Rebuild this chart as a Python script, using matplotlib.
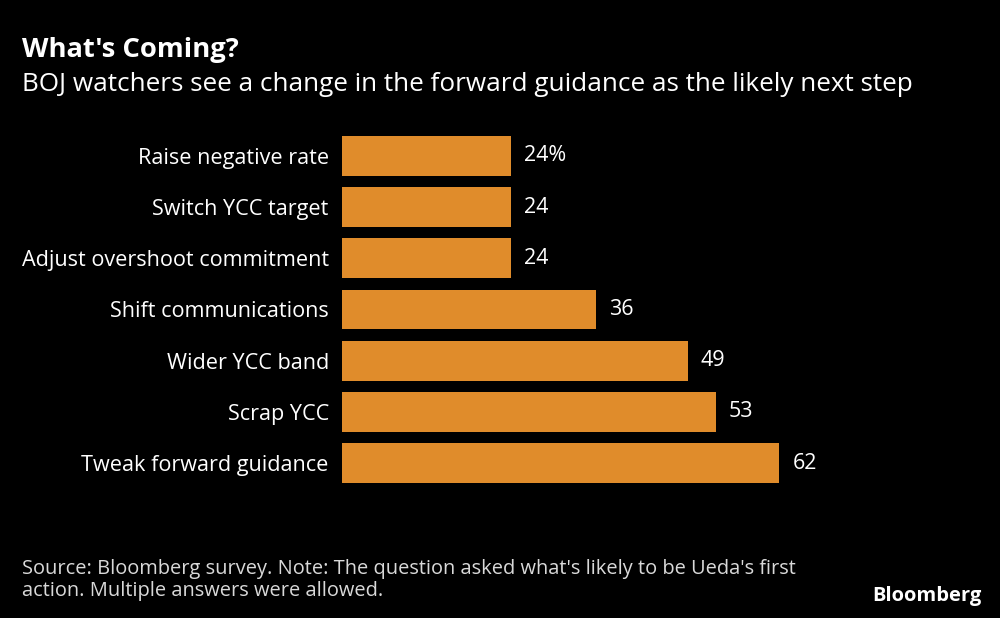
import matplotlib.pyplot as plt

plt.rcParams['font.family'] = ['Open Sans', 'DejaVu Sans']

categories = ['Raise negative rate', 'Switch YCC target', 'Adjust overshoot commitment',
              'Shift communications', 'Wider YCC band', 'Scrap YCC', 'Tweak forward guidance']
values = [24, 24, 24, 36, 49, 53, 62]
value_labels = ['24%', '24', '24', '36', '49', '53', '62']

bg = '#000000'
bar_color = '#E08C2B'

fig = plt.figure(figsize=(10, 6.18), dpi=100, facecolor=bg)
ax = fig.add_axes([0.342, 0.2094, 0.558, 0.5796], facecolor=bg)

y = list(range(len(categories)))
ax.barh(y, values, height=0.78, color=bar_color)
ax.set_xlim(0, 79.1)
ax.set_ylim(len(categories) - 0.5, -0.5)

for yi, v, lab in zip(y, values, value_labels):
    ax.text(v + 1.85, yi, lab, va='center', ha='left', color='white', fontsize=15.5)

ax.set_yticks(y)
ax.set_yticklabels(categories, color='white', fontsize=15.6)
ax.tick_params(axis='y', length=0, pad=9.5)
ax.set_xticks([])
for s in ax.spines.values():
    s.set_visible(False)

fig.text(0.022, 0.908, "What's Coming?", color='white', fontsize=19.7, fontweight='bold', va='baseline')
fig.text(0.022, 0.853, "BOJ watchers see a change in the forward guidance as the likely next step",
         color='white', fontsize=18.8, va='baseline')
fig.text(0.022, 0.036, "Source: Bloomberg survey. Note: The question asked what's likely to be Ueda's first\n"
         "action. Multiple answers were allowed.", color='#d9d9d9', fontsize=14.4,
         va='baseline', linespacing=1.15)
fig.text(0.982, 0.028, "Bloomberg", color='white', fontsize=14.5, fontweight='bold', ha='right', va='baseline')

fig.savefig('out.png', dpi=100, facecolor=bg)
